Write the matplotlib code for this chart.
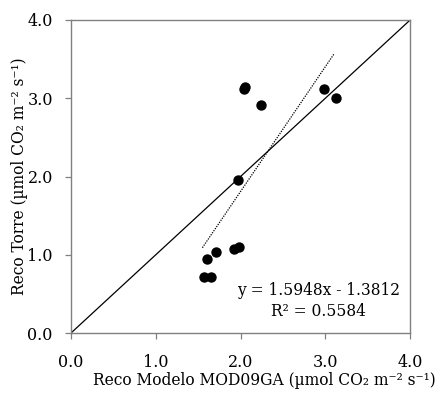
import numpy as np
import matplotlib
matplotlib.use("Agg")
import matplotlib.pyplot as plt

plt.rcParams['font.family'] = ['DejaVu Serif']
plt.rcParams['mathtext.fontset'] = 'dejavuserif'

# Reco modelo MOD09GA vs Reco torre
reco_modelo = [2.05, 2.04, 2.24, 2.98, 3.12, 1.97, 1.565, 1.655, 1.61, 1.715, 1.92, 1.98]
reco_torre = [3.14, 3.12, 2.91, 3.12, 3.00, 1.955, 0.72, 0.72, 0.95, 1.04, 1.07, 1.10]
slope, intercept = 1.5948, -1.3812
r2 = 0.5584
ticks = [0.0, 1.0, 2.0, 3.0, 4.0]

fig = plt.figure(figsize=(4.43, 3.98), dpi=100)
ax = fig.add_axes([0.160, 0.163, 0.766, 0.787])

ax.plot([0, 4], [0, 4], color='black', lw=0.9)
xf = np.array([1.55, 3.10])
ax.plot(xf, slope * xf + intercept, color='black', lw=0.9, ls=(0, (1.0, 1.0)))
ax.scatter(reco_modelo, reco_torre, s=42, color='black', zorder=3)

ax.set_xlim(0, 4)
ax.set_ylim(0, 4)
ax.set_xticks(ticks)
ax.set_yticks(ticks)
ax.set_xticklabels([f"{t:.1f}" for t in ticks], fontsize=11.5)
ax.set_yticklabels([f"{t:.1f}" for t in ticks], fontsize=11.5)
ax.tick_params(direction='out', length=4, width=0.9, color='#808080')
ax.tick_params(axis='x', pad=11)
ax.tick_params(axis='y', pad=9)
for s in ax.spines.values():
    s.set_color('#808080')
    s.set_linewidth(1.0)

ax.set_xlabel('Reco Modelo MOD09GA (µmol CO₂ m⁻² s⁻¹)', fontsize=11.2)
ax.xaxis.set_label_coords(0.57, -0.125)
ax.set_ylabel('Reco Torre (µmol CO₂ m⁻² s⁻¹)', fontsize=11.2)
ax.yaxis.set_label_coords(-0.125, 0.5)

ax.text(2.92, 0.41, f"y = {slope:.4f}x - {-intercept:.4f}\nR² = {r2:.4f}",
        ha='center', va='center', fontsize=11.2, linespacing=1.35)

fig.savefig('out.png', dpi=100)
